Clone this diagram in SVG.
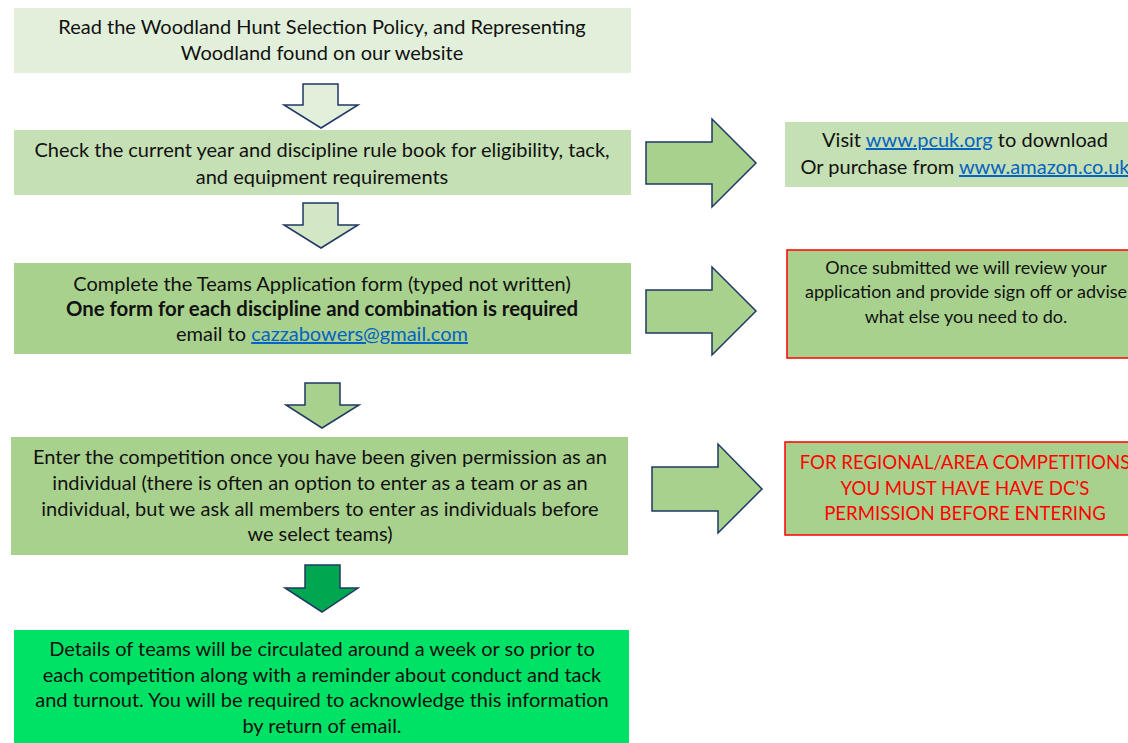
<svg xmlns="http://www.w3.org/2000/svg" width="1128" height="743" viewBox="0 0 1128 743">
<style>
text{font-family:Lato,"Open Sans","Liberation Sans",sans-serif;font-size:20px;fill:#111;text-anchor:middle}
.sm{font-size:18px}
.b{font-weight:bold;font-size:20.4px}
.lnk{fill:#0563C1;text-decoration:underline}
.red{fill:#FF0000;font-size:18.6px}
.arr{stroke:#203864;stroke-width:1.5;stroke-linejoin:miter}
.rb{stroke:#FF0000;stroke-width:1.5}
</style>
<rect width="1128" height="743" fill="#ffffff"/>
<g id="connectors">
<path class="arr" fill="#E2EFDA" d="M303,84 H338 V105 H358 L321,128 L284,105 H303 Z"/>
<path class="arr" fill="#D3E7C6" d="M303,203 H338 V225 H358 L321,248 L284,225 H303 Z"/>
<path class="arr" fill="#A9D18E" d="M305,383 H340 V405 H359 L322,428 L286,405 H305 Z"/>
<path class="arr" fill="#00A650" d="M305,565 H340 V588 H358 L322,612 L285,588 H305 Z"/>
<path class="arr" fill="#A9D18E" d="M646,142 H712 V119 L756,163 L712,207 V184 H646 Z"/>
<path class="arr" fill="#A9D18E" d="M646,290 H712 V267 L756,311 L712,355 V333 H646 Z"/>
<path class="arr" fill="#A9D18E" d="M652,467 H718 V444 L762,489 L718,533 V511 H652 Z"/>
</g>
<g id="n1">
<rect x="14" y="8" width="617" height="65" fill="#E2EFDA"/>
<text x="322" y="34">Read the Woodland Hunt Selection Policy, and Representing</text>
<text x="322" y="60">Woodland found on our website</text>
</g>
<g id="n2">
<rect x="14" y="130" width="617" height="65" fill="#C5E0B4"/>
<text x="322" y="157">Check the current year and discipline rule book for eligibility, tack,</text>
<text x="322" y="184">and equipment requirements</text>
</g>
<g id="n3">
<rect x="14" y="263" width="617" height="91" fill="#A9D18E"/>
<text x="322" y="291">Complete the Teams Application form (typed not written)</text>
<text x="322" y="316" class="b">One form for each discipline and combination is required</text>
<text x="322" y="341">email to <tspan class="lnk">cazzabowers@gmail.com</tspan></text>
</g>
<g id="n4">
<rect x="11" y="437" width="617" height="118" fill="#A9D18E"/>
<text x="320" y="464">Enter the competition once you have been given permission as an</text>
<text x="320" y="490">individual (there is often an option to enter as a team or as an</text>
<text x="320" y="516">individual, but we ask all members to enter as individuals before</text>
<text x="320" y="541">we select teams)</text>
</g>
<g id="n5">
<rect x="14" y="630" width="615" height="113" fill="#00E266"/>
<text x="322" y="656">Details of teams will be circulated around a week or so prior to</text>
<text x="322" y="682">each competition along with a reminder about conduct and tack</text>
<text x="322" y="707">and turnout. You will be required to acknowledge this information</text>
<text x="322" y="733">by return of email.</text>
</g>
<g id="r1">
<rect x="785" y="122" width="365" height="65" fill="#C5E0B4"/>
<text x="965" y="147">Visit <tspan class="lnk">www.pcuk.org</tspan> to download</text>
<text x="965" y="174">Or purchase from <tspan class="lnk">www.amazon.co.uk</tspan></text>
</g>
<g id="r2">
<rect x="787" y="250" width="365" height="108" fill="#A9D18E" class="rb"/>
<text x="966" y="274" class="sm">Once submitted we will review your</text>
<text x="966" y="298" class="sm">application and provide sign off or advise</text>
<text x="966" y="323" class="sm">what else you need to do.</text>
</g>
<g id="r3">
<rect x="785" y="442" width="365" height="93" fill="#A9D18E" class="rb"/>
<text x="965" y="469" class="red">FOR REGIONAL/AREA COMPETITIONS</text>
<text x="965" y="495" class="red">YOU MUST HAVE HAVE DC’S</text>
<text x="965" y="520" class="red">PERMISSION BEFORE ENTERING</text>
</g>
</svg>
